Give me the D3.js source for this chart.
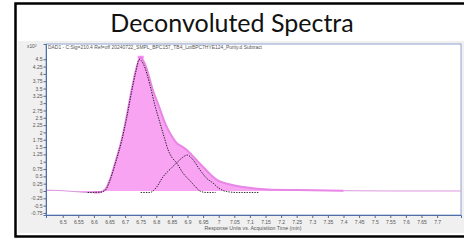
<!DOCTYPE html>
<html>
<head>
<meta charset="utf-8">
<script src="https://cdn.jsdelivr.net/npm/d3@7"></script>
<style>
  body { margin: 0; background: #fff; }
  svg { display: block; }
</style>
</head>
<body>
<svg id="chart" width="464" height="240"></svg>
<script>
// Total (summed) signal, x10^2 response units
const totalTime = [6.4465, 6.5, 6.55, 6.58, 6.6, 6.62, 6.636, 6.652, 6.668, 6.689, 6.705, 6.721, 6.735, 6.75, 6.765, 6.789, 6.81, 6.828, 6.848, 6.865, 6.885, 6.902, 6.925, 6.95, 6.975, 6.994, 7.03, 7.068, 7.11, 7.155, 7.25, 7.4, 7.55, 7.7, 7.776];
const totalValue = [0.03, 0.01, -0.03, -0.05, -0.05, -0.04, 0.05, 0.4, 0.95, 1.74, 2.55, 3.45, 4.15, 4.55, 4.3, 3.45, 2.85, 2.32, 1.9, 1.64, 1.5, 1.36, 1.1, 0.82, 0.55, 0.38, 0.24, 0.15, 0.09, 0.05, 0.03, 0.01, 0.0, 0.0, 0.0];

// Deconvoluted component 1 (main peak)
const comp1Time = [6.58, 6.62, 6.636, 6.652, 6.668, 6.689, 6.705, 6.721, 6.735, 6.745, 6.76, 6.78, 6.795, 6.812, 6.825, 6.838, 6.85, 6.865, 6.885, 6.908, 6.925, 6.94, 6.96, 6.99];
const comp1Value = [-0.05, -0.04, 0.02, 0.38, 0.92, 1.72, 2.5, 3.4, 4.1, 4.5, 4.3, 3.6, 2.95, 2.32, 1.85, 1.4, 1.15, 0.96, 0.62, 0.35, 0.15, 0.0, -0.05, -0.05];

// Deconvoluted component 2 (shoulder)
const comp2Time = [6.75, 6.78, 6.8, 6.822, 6.845, 6.865, 6.885, 6.899, 6.915, 6.94, 6.96, 6.982, 7.0, 7.026, 7.06, 7.13];
const comp2Value = [-0.05, -0.05, 0.12, 0.49, 0.75, 0.96, 1.15, 1.23, 1.1, 0.72, 0.45, 0.27, 0.1, -0.02, -0.05, -0.05];

const xTicks = [6.5, 6.55, 6.6, 6.65, 6.7, 6.75, 6.8, 6.85, 6.9, 6.95, 7, 7.05, 7.1, 7.15, 7.2, 7.25, 7.3, 7.35, 7.4, 7.45, 7.5, 7.55, 7.6, 7.65, 7.7];
const yTicks = [4.5, 4.25, 4, 3.75, 3.5, 3.25, 3, 2.75, 2.5, 2.25, 2, 1.75, 1.5, 1.25, 1, 0.75, 0.5, 0.25, 0, -0.25, -0.5, -0.75];

const svg = d3.select("#chart");

// Slide frame and title
svg.append("rect").attr("x", 15.5).attr("y", 3.5).attr("width", 460).attr("height", 233)
    .attr("fill", "#fff").attr("stroke", "#000").attr("stroke-width", 2.5);
svg.append("text").attr("x", 232).attr("y", 32).attr("text-anchor", "middle")
    .style("font-family", "Lato, 'Noto Sans', sans-serif").style("font-size", "25px").attr("fill", "#111")
    .text("Deconvoluted Spectra");

// Grey screenshot panel
svg.append("rect").attr("x", 18).attr("y", 41).attr("width", 446).attr("height", 192).attr("fill", "#f0f0f0");

const plot = { left: 46, right: 461, top: 44, bottom: 215 };

let x = d3.scaleLinear().domain([6.4465, 7.7766]).range([plot.left, plot.right]);
let y = d3.scaleLinear().domain([-0.82, 5.02]).range([plot.bottom, plot.top]);

svg.append("rect").attr("x", plot.left).attr("y", plot.top)
    .attr("width", plot.right - plot.left).attr("height", plot.bottom - plot.top)
    .attr("fill", "#fff").attr("stroke", "#8ea2d0").attr("stroke-width", 1);

// Header text inside plot
svg.append("text").attr("x", plot.left + 2).attr("y", plot.top + 4.5)
    .attr("textLength", 214).attr("lengthAdjust", "spacingAndGlyphs")
    .style("font-family", "'Liberation Sans', Arial, sans-serif").style("font-size", "4.8px").attr("fill", "#555")
    .text("DAD1 - C:Sig=210.4  Ref=off 20240722_SMPL_BPC157_TB4_LotBPC7HYE124_Purity.d  Subtract");

// Y multiplier label
let mult = svg.append("text").attr("x", 27).attr("y", plot.top + 4)
    .style("font-family", "'Liberation Sans', Arial, sans-serif").style("font-size", "4.8px").attr("fill", "#555");
mult.append("tspan").text("x10");
mult.append("tspan").attr("dy", -1.5).style("font-size", "3.5px").text("2");

let total = totalTime.map((t, i) => ({ t: t, v: totalValue[i] }));
let c1 = comp1Time.map((t, i) => ({ t: t, v: comp1Value[i] }));
let c2 = comp2Time.map((t, i) => ({ t: t, v: comp2Value[i] }));

svg.append("clipPath").attr("id", "clip").append("rect")
    .attr("x", plot.left).attr("y", plot.top).attr("width", plot.right - plot.left).attr("height", plot.bottom - plot.top);

let g = svg.append("g").attr("clip-path", "url(#clip)");

let area = d3.area().x(d => x(d.t)).y0(y(0)).y1(d => y(d.v)).curve(d3.curveMonotoneX);
let line = d3.line().x(d => x(d.t)).y(d => y(d.v)).curve(d3.curveMonotoneX);

g.append("path").datum(total).attr("d", area).attr("fill", "#f8a4f2");
// thin trace over the whole run, thicker outline across the peak
g.append("path").datum(total).attr("d", line).attr("fill", "none")
    .attr("stroke", "#dc9ae0").attr("stroke-width", 1);
g.append("path").datum(total.filter(d => d.t >= 6.6 && d.t <= 7.4)).attr("d", line).attr("fill", "none")
    .attr("stroke", "#ea86e6").attr("stroke-width", 2);

// Peak marker
g.append("rect").attr("x", x(6.75) - 3).attr("y", y(4.55) - 2).attr("width", 6).attr("height", 3)
    .attr("fill", "#f070ec").attr("opacity", 0.8);

[c1, c2].forEach(c => {
    g.append("path").datum(c).attr("d", line).attr("fill", "none")
        .attr("stroke", "#111").attr("stroke-width", 0.9).attr("stroke-dasharray", "1.4,1.2");
});

// Axes
let fmt = d => String(+d.toFixed(2));
let xAxis = d3.axisBottom(x).tickValues(xTicks).tickFormat(fmt).tickSize(3).tickPadding(2);
let xg = svg.append("g").attr("transform", `translate(0,${plot.bottom})`).call(xAxis);
let yAxis = d3.axisLeft(y).tickValues(yTicks).tickFormat(fmt).tickSize(2.5).tickPadding(1);
let yg = svg.append("g").attr("transform", `translate(${plot.left},0)`).call(yAxis);

[xg, yg].forEach(a => {
    a.select(".domain").attr("stroke", "#4f6fa8");
    a.selectAll(".tick line").attr("stroke", "#667");
    a.selectAll(".tick text").attr("fill", "#555")
        .style("font-family", "'Liberation Sans', Arial, sans-serif").style("font-size", "5px");
});

svg.append("text").attr("x", 253).attr("y", 230).attr("text-anchor", "middle")
    .style("font-family", "'Liberation Sans', Arial, sans-serif").style("font-size", "5.2px").attr("fill", "#555")
    .text("Response Units vs. Acquisition Time (min)");
</script>
</body>
</html>
